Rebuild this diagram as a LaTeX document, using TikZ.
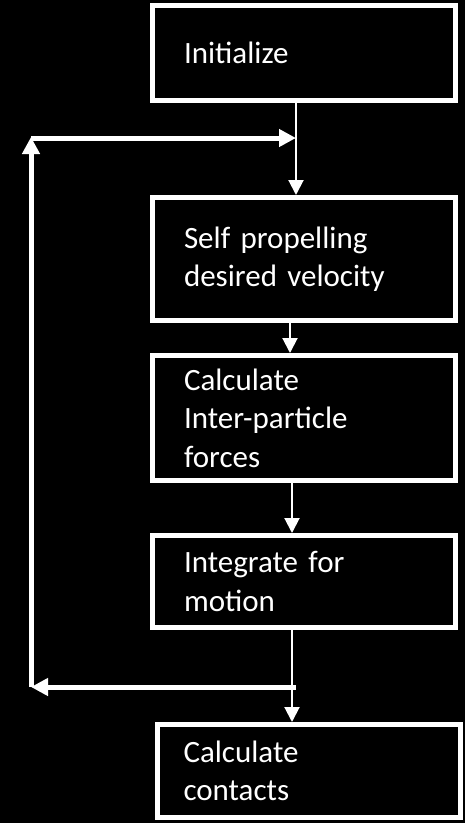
\documentclass[tikz,border=0pt]{standalone}
\usepackage{fontspec}
\setmainfont{Carlito}
\usetikzlibrary{arrows.meta,positioning}

\begin{document}
\begin{tikzpicture}[
  x=1pt, y=1pt,
  box/.style={rectangle, draw=white, line width=5pt, fill=black, minimum width=303pt, text width=240pt, inner xsep=31.5pt, align=left, text=white, font=\fontsize{31}{38.5}\selectfont},
  arr/.style={-{Triangle[length=15pt,width=15pt]}, draw=white, line width=2pt},
  back/.style={-{Triangle[length=17pt,width=17pt]}, draw=white, line width=5pt},
  node distance=92pt
]
\useasboundingbox (0,0) rectangle (465,-823);
\fill[black] (0,0) rectangle (465,-823);

\node[box, minimum height=95pt] (init) at (304,-53) {Initialize};
\node[box, minimum height=123pt, below=of init] (prop) {Self propelling\\desired velocity};
\node[box, minimum height=125pt, below=30pt of prop] (forces) {Calculate\\Inter-particle\\forces};
\node[box, minimum height=92pt, below=50pt of forces] (motion) {Integrate for\\motion};
\node[box, minimum height=93pt, inner xsep=26pt, text width=251pt, below=of motion, xshift=5pt] (contacts) {Calculate\\contacts};

\draw[arr] ([xshift=-8pt]init.south) -- ([xshift=-8pt]prop.north);
\draw[arr] ([xshift=-14pt]prop.south) -- ([xshift=-14pt]forces.north);
\draw[arr] ([xshift=-12pt]forces.south) -- ([xshift=-12pt]motion.north);
\draw[arr] ([xshift=-12pt]motion.south) -- ([xshift=-17pt]contacts.north);

% loop back
\coordinate (j2) at ([xshift=-8pt,yshift=-35pt]init.south);
\coordinate (j1) at ([xshift=-8pt,yshift=-57pt]motion.south);
\coordinate (tl) at (31,-137);
\coordinate (bl) at (tl |- j1);
\draw[back] (j1) -- (bl);
\draw[back] (bl) -- (tl);
\draw[back] ([yshift=-1pt]tl) -- (j2);
\end{tikzpicture}
\end{document}
